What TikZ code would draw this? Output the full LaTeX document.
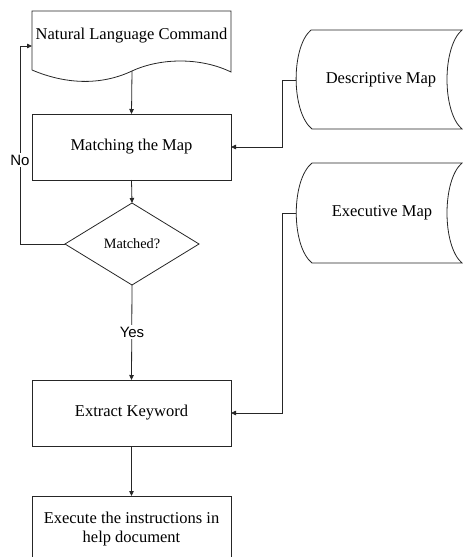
\documentclass[tikz,border=0pt]{standalone}
\usepackage{fontspec}
\setmainfont{Liberation Serif}
\newfontfamily\labelsans{Liberation Sans}
\usetikzlibrary{shapes.geometric,arrows.meta}

\begin{document}
\begin{tikzpicture}[x=1pt,y=-1pt,
  line/.style={draw=black!85, line width=0.8pt},
  arr/.style={line, -{Triangle[length=5pt,width=4.5pt]}},
  procbox/.style={rectangle, line, minimum width=199pt, minimum height=66pt,
    inner sep=0pt, outer sep=0pt, font=\fontsize{16.5}{19}\selectfont, align=center},
  txt/.style={inner sep=0pt, font=\fontsize{16.5}{19}\selectfont, align=center},
  branch/.style={fill=white, inner sep=1.5pt, font=\labelsans\fontsize{15}{17}\selectfont}]

\useasboundingbox (0,0) rectangle (463,557);

% document shape: natural language command
\draw[line] (32,70) -- (32,11) -- (231,11) -- (231,72)
  .. controls (200,57) and (160,58) .. (132,71)
  .. controls (100,86) and (65,84) .. (32,70);
\node[txt] (cmd) at (131.5,36) {Natural Language Command};
\coordinate (cmdb) at (132,71);
\coordinate (cmdin) at (32,46);

% process steps
\node[procbox] (match) at (131.5,147) {Matching the Map};
\node[diamond, line, minimum width=134pt, minimum height=82pt, inner sep=0pt,
  outer sep=0pt, font=\fontsize{14.3}{16}\selectfont] (check) at (132,244) {Matched?};
\node[procbox] (extract) at (131.5,413) {Extract Keyword};
\node[procbox] (exec) at (131.5,529) {Execute the instructions in\\help document};

% stored data: descriptive map
\draw[line] (311,30) -- (462,30)
  .. controls (442,47) and (442,112) .. (462,129) -- (312,129)
  .. controls (291,112) and (291,47) .. (311,30);
\node[txt] (dmap) at (381,80) {Descriptive Map};
\coordinate (dmapw) at (296,80);

% stored data: executive map
\draw[line] (312,163) -- (462,163)
  .. controls (442,180) and (442,246) .. (462,263) -- (312,263)
  .. controls (291,246) and (291,180) .. (312,163);
\node[txt] (emap) at (382,213) {Executive Map};
\coordinate (emapw) at (296,213);

% connectors
\draw[arr] (cmdb) -- (match.north);
\draw[arr] (match.south) -- (check.north);
\draw[arr] (check.west) -- (20,244) -- (20,46) -- (cmdin);
\node[branch] at (20,160) {No};
\draw[arr] (check.south) -- (extract.north);
\node[branch] at (132,332) {Yes};
\draw[arr] (extract.south) -- (exec.north);
\draw[arr] (dmapw) -- (282,80) -- (282,147) -- (match.east);
\draw[arr] (emapw) -- (282,213) -- (282,413) -- (extract.east);

\end{tikzpicture}
\end{document}
